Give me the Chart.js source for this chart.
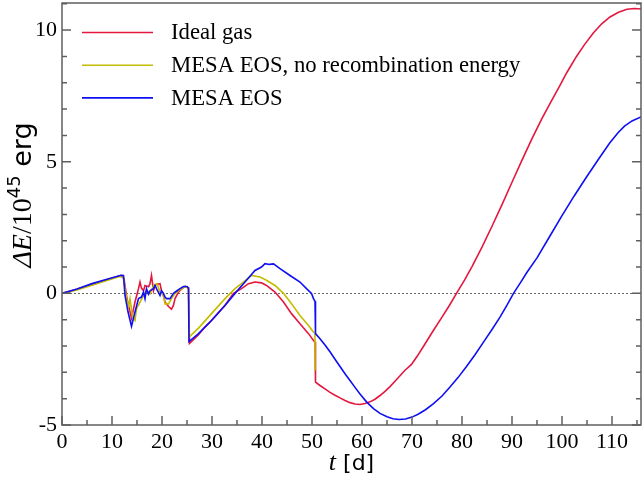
<!DOCTYPE html>
<html>
<head>
<meta charset="utf-8">
<script src="https://cdn.jsdelivr.net/npm/chart.js@4/dist/chart.umd.min.js"></script>
<style>
  html, body { margin: 0; padding: 0; background: #fff; }
  #c { display: block; }
</style>
</head>
<body>
<canvas id="c" width="642" height="481"></canvas>
<script>
// Energy change ΔE (10^45 erg) versus time t (days) for three equation-of-state runs.

const seriesLabels = ['Ideal gas', 'MESA EOS, no recombination energy', 'MESA EOS'];
const seriesColors = ['#e4173e', '#c4bc00', '#0f0ff5'];

const xTickValues = [0, 10, 20, 30, 40, 50, 60, 70, 80, 90, 100, 110];
const yTickValues = [-5, 0, 5, 10];

// Ideal gas
const idealT = [0, 3, 6, 9, 11.8, 12.4, 13.0, 13.9, 14.6, 15.3, 15.6, 15.9, 16.3, 16.6, 17.3, 17.6, 17.9, 18.3, 18.6,
  19.0, 19.6, 19.9, 20.3, 20.6, 21.3, 21.9, 22.3, 22.6, 23.3, 24.0, 24.6, 25.3, 25.5, 26.5, 27.3, 28.5, 29.9, 31.2,
  32.6, 34.3, 35.9, 37.3, 38.6, 39.9, 40.9, 42.6, 44.3, 45.9, 47.6, 49.3, 50.3, 50.6, 50.7, 51.6, 52.6, 53.6, 54.6,
  55.6, 56.6, 57.6, 58.6, 59.6, 60.6, 61.6, 62.6, 63.6, 64.6, 65.6, 66.6, 67.6, 68.6, 69.9, 71.0, 72.5, 74.3, 76.0,
  77.5, 78.9, 80.5, 82, 84, 86, 88, 90, 92, 94, 96, 98, 99.6, 101, 102.9, 104.5, 106.3, 108, 109.6, 111.3, 113, 114.5, 115.8];
const idealE = [0, 0.16, 0.35, 0.52, 0.68, 0.55, -0.2, -0.95, -0.33, 0.18, 0.43, 0.2, 0.1, 0.3, 0.25, 0.37, 0.68, 0.1, 0.3,
  0.35, 0.37, 0.1, -0.1, -0.33, -0.5, -0.6, -0.45, -0.2, 0.05, 0.18, 0.26, 0.2, -1.9, -1.72, -1.57, -1.3, -1.03, -0.75,
  -0.45, 0.0, 0.18, 0.37, 0.43, 0.4, 0.3, 0.05, -0.33, -0.77, -1.15, -1.53, -1.79, -1.85, -3.37, -3.5, -3.63, -3.76, -3.87,
  -3.97, -4.07, -4.15, -4.2, -4.22, -4.18, -4.12, -4.02, -3.88, -3.72, -3.54, -3.34, -3.13, -2.92, -2.7, -2.4, -1.95, -1.4, -0.9,
  -0.45, 0, 0.5, 1.02, 1.76, 2.55, 3.37, 4.22, 5.06, 5.88, 6.65, 7.35, 7.9, 8.4, 9.0, 9.45, 9.9, 10.25, 10.5, 10.68, 10.79, 10.82, 10.8];

// MESA EOS without recombination energy
const noRecT = [0, 3, 6, 9, 11.5, 12.3, 12.9, 13.3, 13.6, 14.1, 14.6, 14.9, 15.3, 16.3, 16.9, 17.6, 18.3, 19.0, 19.6,
  20.3, 20.6, 21.3, 21.9, 22.6, 23.3, 24.0, 24.6, 25.3, 25.4, 27.3, 29.9, 32.6, 34.6, 35.9, 37.9, 39.6, 40.9, 42.6,
  44.3, 45.9, 47.6, 49.3, 50.3, 50.6, 50.6];
const noRecE = [0, 0.13, 0.31, 0.49, 0.64, 0.6, -0.2, -0.5, -0.2, -0.9, -1.03, -0.58, -0.45, -0.08, 0.1, -0.02, 0.3, 0.37, 0.05,
  -0.05, -0.4, -0.4, -0.2, 0.0, 0.1, 0.18, 0.26, 0.2, -1.66, -1.32, -0.77, -0.2, 0.18, 0.37, 0.68, 0.62, 0.5, 0.3,
  0.0, -0.39, -0.84, -1.22, -1.47, -1.5, -2.93];

// MESA EOS
const mesaT = [0, 3, 6, 9, 11.8, 12.3, 12.6, 13.2, 13.9, 14.6, 15.3, 15.9, 16.3, 16.6, 16.9, 17.3, 17.6, 18.3, 18.6,
  19.1, 19.6, 19.9, 20.3, 20.6, 20.9, 21.6, 22.3, 23.0, 23.6, 24.3, 25.0, 25.3, 25.4, 27.3, 29.9, 32.6, 34.6, 36.6,
  38.6, 39.9, 40.6, 41.5, 42.3, 43.6, 45.6, 47.6, 48.9, 49.9, 50.3, 50.6, 50.7, 51.6, 52.6, 53.6, 54.6, 55.6, 56.6,
  57.6, 58.6, 59.6, 60.9, 62.3, 63.6, 65, 66.2, 67.4, 68.7, 70, 71.3, 72.7, 74.3, 76, 77.6, 79.2, 80.9, 82.6, 84.3,
  86, 87.6, 89, 90.3, 91.6, 93, 95, 97.5, 100, 102.5, 105, 107.5, 109.5, 111.2, 112.5, 114, 115.8];
const mesaE = [0, 0.17, 0.37, 0.54, 0.69, 0.68, -0.08, -0.7, -1.25, -0.71, -0.2, -0.14, 0.05, -0.2, 0.18, -0.03, 0.1, 0.18, 0.3,
  0.1, -0.08, 0.1, 0.0, -0.14, -0.2, -0.2, 0.0, 0.1, 0.18, 0.26, 0.26, 0.2, -1.83, -1.53, -1.03, -0.46, 0.0, 0.43,
  0.87, 1.0, 1.13, 1.1, 1.12, 0.94, 0.68, 0.43, 0.18, 0.0, -0.2, -0.3, -1.53, -1.72, -1.96, -2.22, -2.5, -2.78, -3.05,
  -3.31, -3.57, -3.82, -4.12, -4.38, -4.56, -4.69, -4.76, -4.79, -4.77, -4.7, -4.58, -4.42, -4.19, -3.9, -3.56, -3.2, -2.78, -2.33, -1.85,
  -1.37, -0.9, -0.45, 0, 0.38, 0.8, 1.35, 2.15, 2.95, 3.72, 4.45, 5.15, 5.7, 6.1, 6.35, 6.55, 6.7];

const X_MIN = 0, X_MAX = 115.8, Y_MIN = -5, Y_MAX = 11.03;

function toPoints(ts, es) { return ts.map((t, i) => ({ x: t, y: es[i] })); }

const seriesT = [idealT, noRecT, mesaT];
const seriesE = [idealE, noRecE, mesaE];

const datasets = seriesLabels.map((label, i) => ({
  label,
  data: toPoints(seriesT[i], seriesE[i]),
  borderColor: seriesColors[i],
  backgroundColor: seriesColors[i],
  borderWidth: 1.6,
  pointRadius: 0,
  tension: 0,
  order: 3 - i
}));

const SERIF = '"Liberation Serif", "Times New Roman", serif';
const SANS = '"DejaVu Sans", sans-serif';

// Frame, inward tick marks, dotted zero line, legend and axis titles
const decorations = {
  id: 'decorations',
  beforeDatasetsDraw(chart) {
    const { ctx, chartArea: a, scales: { y } } = chart;
    const y0 = y.getPixelForValue(0);
    ctx.save();
    ctx.strokeStyle = '#666';
    ctx.lineWidth = 1;
    ctx.setLineDash([2, 2]);
    ctx.beginPath();
    ctx.moveTo(a.left, Math.round(y0) + 0.5);
    ctx.lineTo(a.right, Math.round(y0) + 0.5);
    ctx.stroke();
    ctx.restore();
  },
  afterDraw(chart) {
    const { ctx, chartArea: a, scales: { x, y } } = chart;
    ctx.save();
    ctx.strokeStyle = '#5f5f5f';
    ctx.lineWidth = 1.5;
    // ticks: bottom axis
    for (let v = X_MIN; v <= X_MAX + 1e-9; v += 5) {
      const px = x.getPixelForValue(v);
      const len = (Math.round(v) % 10 === 0) ? 9 : 5;
      ctx.beginPath();
      ctx.moveTo(px, a.bottom);
      ctx.lineTo(px, a.bottom - len);
      ctx.stroke();
    }
    // ticks: left and right axes
    for (let v = Y_MIN; v <= Y_MAX + 1e-9; v += 1) {
      const py = y.getPixelForValue(v);
      const len = (Math.round(v) % 5 === 0) ? 9 : 5;
      ctx.beginPath();
      ctx.moveTo(a.left, py);
      ctx.lineTo(a.left + len, py);
      ctx.moveTo(a.right, py);
      ctx.lineTo(a.right - len, py);
      ctx.stroke();
    }
    ctx.strokeRect(a.left, a.top, a.right - a.left, a.bottom - a.top);
    ctx.restore();

    // legend
    ctx.save();
    ctx.font = '22.7px ' + SERIF;
    ctx.textBaseline = 'middle';
    ctx.fillStyle = '#000';
    chart.data.datasets.forEach((ds, i) => {
      const ly = 32.5 + i * 32.7;
      ctx.strokeStyle = ds.borderColor;
      ctx.lineWidth = 1.6;
      ctx.beginPath();
      ctx.moveTo(82, ly);
      ctx.lineTo(153, ly);
      ctx.stroke();
      ctx.fillText(ds.label, 171, ly + 1);
    });
    ctx.restore();

    // x-axis title: t [d]
    ctx.save();
    ctx.fillStyle = '#000';
    ctx.textBaseline = 'alphabetic';
    const xParts = [
      { text: 't', font: 'italic 26px ' + SERIF, dy: 0 },
      { text: ' [d]', font: '22px ' + SANS, dy: 0 }
    ];
    drawParts(ctx, xParts, (a.left + a.right) / 2, 470);
    ctx.restore();

    // y-axis title: ΔE/10^45 erg
    ctx.save();
    ctx.fillStyle = '#000';
    ctx.translate(31, 195);
    ctx.rotate(-Math.PI / 2);
    ctx.textBaseline = 'alphabetic';
    const yParts = [
      { text: 'Δ', font: 'italic 28px ' + SERIF, dy: 0 },
      { text: 'E', font: 'italic 28px ' + SERIF, dy: 0 },
      { text: '/10', font: '28px ' + SERIF, dy: 0 },
      { text: '45', font: '18px ' + SANS, dy: -11 },
      { text: ' erg', font: '27px ' + SANS, dy: 0 }
    ];
    drawParts(ctx, yParts, 0, 0);
    ctx.restore();
  }
};

function drawParts(ctx, parts, cx, baseY) {
  let total = 0;
  parts.forEach(p => { ctx.font = p.font; p.w = ctx.measureText(p.text).width; total += p.w; });
  let xx = cx - total / 2;
  parts.forEach(p => {
    ctx.font = p.font;
    ctx.fillText(p.text, xx, baseY + p.dy);
    xx += p.w;
  });
}

new Chart(document.getElementById('c'), {
  type: 'line',
  data: { datasets },
  options: {
    responsive: false,
    animation: false,
    devicePixelRatio: 1,
    layout: { padding: { top: 3, right: 1, left: 0, bottom: 0 } },
    plugins: { legend: { display: false }, tooltip: { enabled: false } },
    scales: {
      x: {
        type: 'linear',
        min: X_MIN,
        max: X_MAX,
        afterFit: s => { s.height = 56; s.paddingLeft = 0; s.paddingRight = 0; },
        afterBuildTicks: s => { s.ticks = xTickValues.map(v => ({ value: v })); },
        ticks: {
          font: { family: SERIF, size: 22 },
          color: '#000',
          padding: 4,
          maxRotation: 0,
          autoSkip: false,
          callback: v => String(v)
        },
        grid: { display: false, drawTicks: false },
        border: { display: false }
      },
      y: {
        type: 'linear',
        min: Y_MIN,
        max: Y_MAX,
        afterFit: s => { s.width = 62; s.paddingTop = 0; s.paddingBottom = 0; },
        afterBuildTicks: s => { s.ticks = yTickValues.map(v => ({ value: v })); },
        ticks: {
          font: { family: SERIF, size: 22 },
          color: '#000',
          padding: 5,
          callback: v => String(v)
        },
        grid: { display: false, drawTicks: false },
        border: { display: false }
      }
    }
  },
  plugins: [decorations]
});
</script>
</body>
</html>
